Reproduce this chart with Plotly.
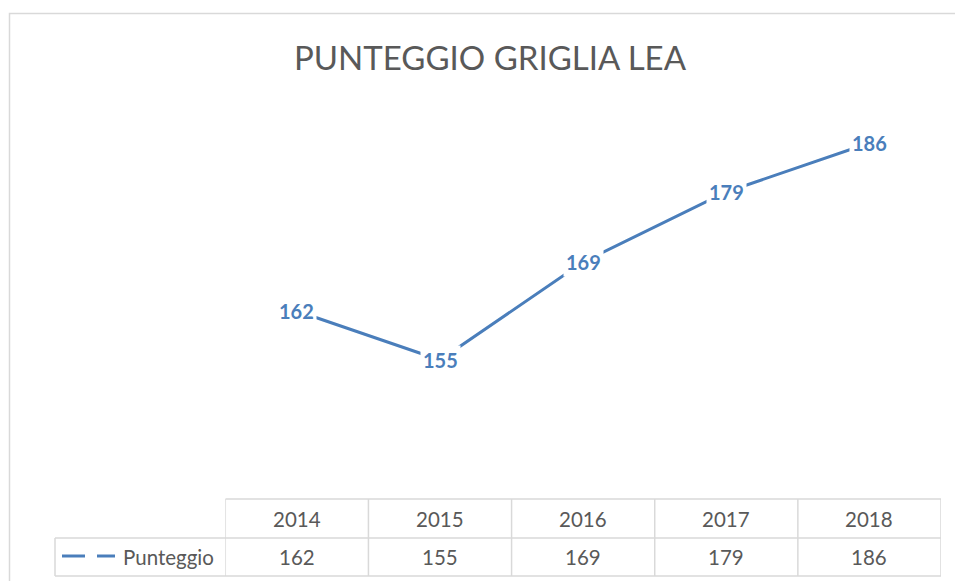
import plotly.graph_objects as go

# data
years = [2014, 2015, 2016, 2017, 2018]
punteggio = [162, 155, 169, 179, 186]
series_name = "Punteggio"
title = "PUNTEGGIO GRIGLIA LEA"

BLUE = "#4a7ebb"
GRID = "#d9d9d9"
TEXT = "#595959"
FONT = "Lato"

W, H = 955, 581


def py(v):
    # pixel row -> paper fraction
    return 1 - v / H


fig = go.Figure()
fig.add_trace(go.Scatter(
    x=years,
    y=punteggio,
    mode="lines",
    name=series_name,
    line=dict(color=BLUE, width=3),
    showlegend=False,
    hoverinfo="x+y",
))

# data labels, white box hides the line under them like in Excel
for x, v in zip(years, punteggio):
    fig.add_annotation(
        x=x, y=v, xref="x", yref="y", text=f"<b>{v}</b>", showarrow=False,
        xanchor="center", yanchor="middle",
        font=dict(family=FONT, size=20, color=BLUE),
        bgcolor="white", borderpad=2,
    )

# data table under the plot
row_top, row_mid, row_bot = py(499), py(538), py(576)
left_edge = years[0] - 0.5
right_edge = years[-1] + 0.5
legend_left = 55 / W   # paper, the legend cell sits outside the x axis
table_right = 941 / W

shapes = []
line = dict(color=GRID, width=1.5)
shapes.append(dict(type="line", xref="x", yref="paper", x0=left_edge, x1=right_edge,
                   y0=row_top, y1=row_top, line=line))
for yy in (row_mid, row_bot):
    shapes.append(dict(type="line", xref="paper", yref="paper", x0=legend_left,
                       x1=table_right, y0=yy, y1=yy, line=line))
shapes.append(dict(type="line", xref="paper", yref="paper", x0=legend_left, x1=legend_left,
                   y0=row_bot, y1=row_mid, line=line))
for k in range(len(years) + 1):
    xe = left_edge + k
    shapes.append(dict(type="line", xref="x", yref="paper", x0=xe, x1=xe,
                       y0=row_bot, y1=row_top, line=line))

# legend key in the table
key_y = py(556)
for a, b in ((62, 85), (97, 115)):
    shapes.append(dict(type="line", xref="paper", yref="paper", x0=a / W, x1=b / W,
                       y0=key_y, y1=key_y, line=dict(color=BLUE, width=3)))

# chart border
shapes.append(dict(type="rect", xref="paper", yref="paper", x0=9.5 / W, x1=1.02,
                   y0=-0.02, y1=py(13.5), line=dict(color=GRID, width=1.5)))

cell_font = dict(family=FONT, size=20.5, color=TEXT)
for x, v in zip(years, punteggio):
    fig.add_annotation(x=x, y=(row_top + row_mid) / 2, xref="x", yref="paper",
                       text=str(x), showarrow=False, xanchor="center", yanchor="middle",
                       font=cell_font)
    fig.add_annotation(x=x, y=(row_mid + row_bot) / 2, xref="x", yref="paper",
                       text=str(v), showarrow=False, xanchor="center", yanchor="middle",
                       font=cell_font)

fig.add_annotation(x=121 / W, y=(row_mid + row_bot) / 2, xref="paper", yref="paper",
                   xanchor="left", yanchor="middle", text=series_name, showarrow=False,
                   font=cell_font)

fig.add_annotation(x=490 / W, y=py(57.5), xref="paper", yref="paper",
                   text=title, showarrow=False, xanchor="center", yanchor="middle",
                   font=dict(family=FONT, size=33, color=TEXT))

fig.update_layout(
    width=W, height=H, autosize=False,
    margin=dict(l=0, r=0, t=0, b=0),
    paper_bgcolor="white", plot_bgcolor="white",
    shapes=shapes,
    xaxis=dict(domain=[225.3 / W, 941 / W], range=[left_edge, right_edge],
               visible=False, fixedrange=True),
    yaxis=dict(domain=[py(490), py(100)], range=[136.43, 192.14],
               visible=False, fixedrange=True),
)

fig.write_html("out.html", config={"displayModeBar": False},
               post_script="document.body.style.margin='0';")
